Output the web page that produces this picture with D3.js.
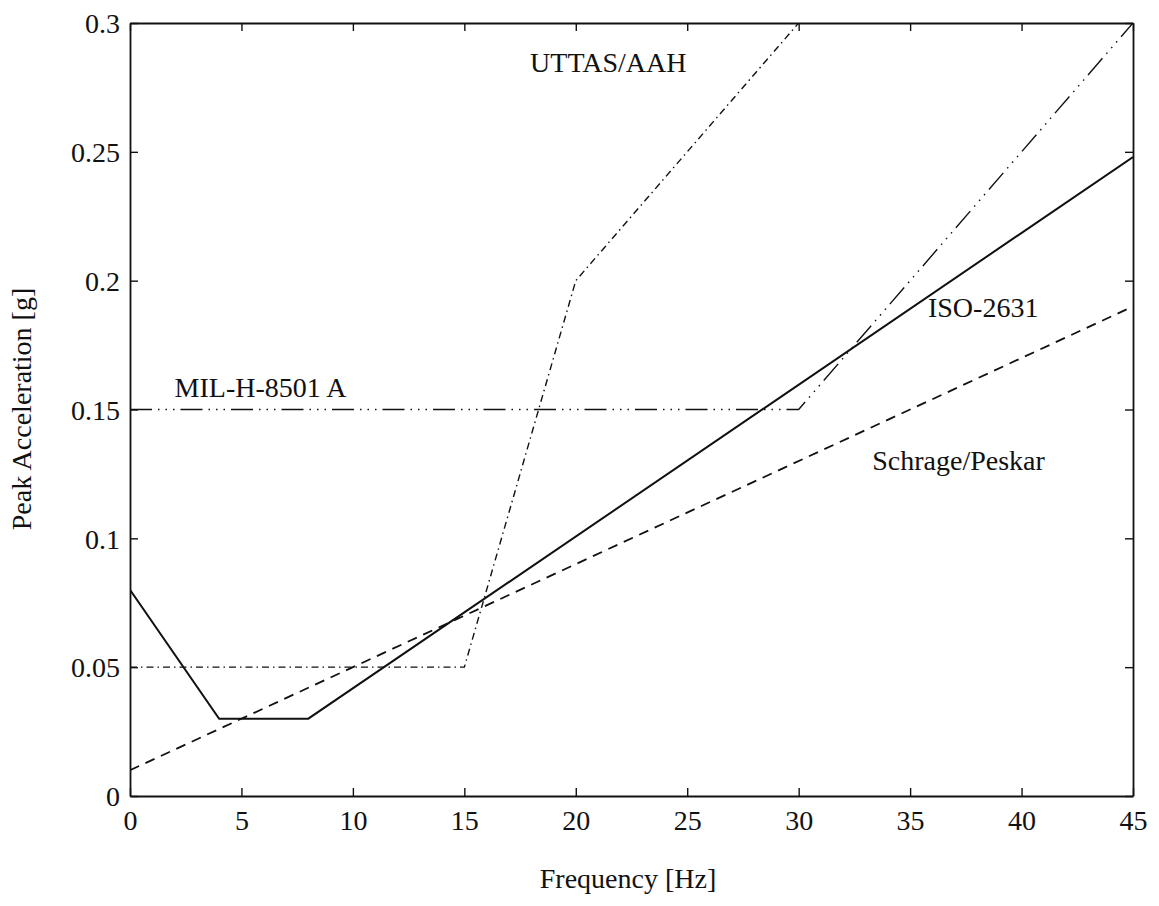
<!DOCTYPE html>
<html>
<head>
<meta charset="utf-8">
<script src="https://cdn.jsdelivr.net/npm/d3@7/dist/d3.min.js"></script>
<style>
  html, body { margin: 0; padding: 0; background: #fff; }
  svg { display: block; }
  text { font-family: "Liberation Serif", "Times New Roman", serif; fill: #111; }
</style>
</head>
<body>
<svg id="chart" width="1159" height="906"></svg>
<script>
// Vibration limits for helicopter cabins: peak acceleration vs. frequency
const xTicks = [0, 5, 10, 15, 20, 25, 30, 35, 40, 45];
const yTicks = [0, 0.05, 0.1, 0.15, 0.2, 0.25, 0.3];
const yTickLabels = ["0", "0.05", "0.1", "0.15", "0.2", "0.25", "0.3"];

const isoFreq = [0, 4, 8, 45];
const isoAccel = [0.08, 0.03, 0.03, 0.248];

const schrageFreq = [0, 45];
const schrageAccel = [0.01, 0.19];

const uttasFreq = [0, 15, 20, 30];
const uttasAccel = [0.05, 0.05, 0.2, 0.3];

const milFreq = [0, 30, 45];
const milAccel = [0.15, 0.15, 0.3];

const seriesNames = ["ISO-2631", "Schrage/Peskar", "UTTAS/AAH", "MIL-H-8501 A"];

const svg = d3.select("#chart");
const plotLeft = 130, plotRight = 1133, plotTop = 23, plotBottom = 796;

const x = d3.scaleLinear().domain([0, 45]).range([plotLeft, plotRight]);
const y = d3.scaleLinear().domain([0, 0.3]).range([plotBottom, plotTop]);

const font = 28;

// Curves
const line = d3.line().x(d => x(d[0])).y(d => y(d[1]));
const series = [
  { f: isoFreq, a: isoAccel, dash: null, w: 2 },
  { f: schrageFreq, a: schrageAccel, dash: "10,7", w: 1.8 },
  { f: uttasFreq, a: uttasAccel, dash: "7,4,1.5,4", w: 1.4 },
  { f: milFreq, a: milAccel, dash: "22,6,1.5,6,1.5,6,1.5,6", w: 1.4 }
];
const plot = svg.append("g");
plot.append("clipPath").attr("id", "clip")
  .append("rect").attr("x", plotLeft).attr("y", plotTop)
  .attr("width", plotRight - plotLeft).attr("height", plotBottom - plotTop);
series.forEach(s => {
  plot.append("path")
    .datum(s.f.map((v, i) => [v, s.a[i]]))
    .attr("clip-path", "url(#clip)")
    .attr("d", line)
    .attr("fill", "none")
    .attr("stroke", "#111")
    .attr("stroke-width", s.w)
    .attr("stroke-dasharray", s.dash);
});

// Axes with inward ticks on all four sides
const tickLen = 8;
const xb = svg.append("g").attr("transform", `translate(0,${plotBottom})`)
  .call(d3.axisBottom(x).tickValues(xTicks).tickSizeInner(-tickLen).tickSizeOuter(0).tickPadding(14));
const xt = svg.append("g").attr("transform", `translate(0,${plotTop})`)
  .call(d3.axisTop(x).tickValues(xTicks).tickSizeInner(-tickLen).tickSizeOuter(0).tickFormat(""));
const yl = svg.append("g").attr("transform", `translate(${plotLeft},0)`)
  .call(d3.axisLeft(y).tickValues(yTicks).tickSizeInner(-tickLen).tickSizeOuter(0)
    .tickPadding(10).tickFormat((d, i) => yTickLabels[i]));
const yr = svg.append("g").attr("transform", `translate(${plotRight},0)`)
  .call(d3.axisRight(y).tickValues(yTicks).tickSizeInner(-tickLen).tickSizeOuter(0).tickFormat(""));

[xb, xt, yl, yr].forEach(g => {
  g.select(".domain").attr("stroke", "#111").attr("stroke-width", 1.8);
  g.selectAll(".tick line").attr("stroke", "#111").attr("stroke-width", 1.4);
  g.selectAll("text").attr("font-size", font)
    .attr("font-family", "Liberation Serif, serif").attr("fill", "#111");
});
yl.selectAll(".tick text").attr("dy", "0.35em");

// Axis titles
svg.append("text")
  .attr("x", 628).attr("y", 888)
  .attr("text-anchor", "middle").attr("font-size", font)
  .text("Frequency [Hz]");
svg.append("text")
  .attr("transform", `translate(31,409) rotate(-90)`)
  .attr("text-anchor", "middle").attr("font-size", font)
  .text("Peak Acceleration [g]");

// Curve labels
const labels = [
  { t: seriesNames[2], fx: 17.95, ya: 0.281 },
  { t: seriesNames[0], fx: 35.8, ya: 0.186 },
  { t: seriesNames[3], fx: 2.0, ya: 0.155 },
  { t: seriesNames[1], fx: 33.3, ya: 0.1265 }
];
labels.forEach(l => {
  svg.append("text")
    .attr("x", x(l.fx)).attr("y", y(l.ya))
    .attr("font-size", font)
    .text(l.t);
});
</script>
</body>
</html>
